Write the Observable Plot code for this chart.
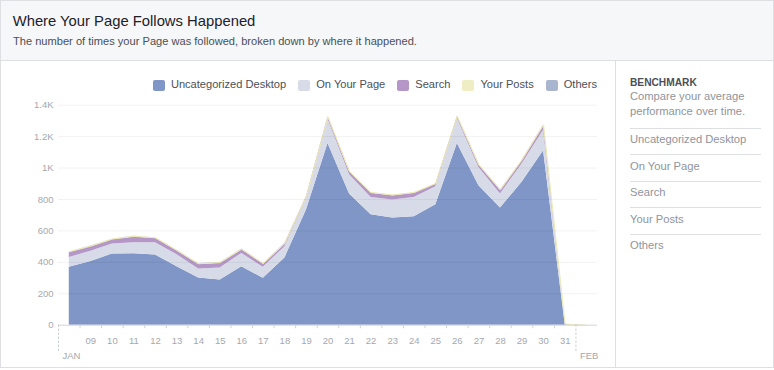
<!DOCTYPE html>
<html><head><meta charset="utf-8">
<script src="https://cdn.jsdelivr.net/npm/d3@7"></script>
<script src="https://cdn.jsdelivr.net/npm/@observablehq/plot@0.6"></script>
<style>
body{margin:0;background:#fff;font-family:"Liberation Sans",Arial,Helvetica,sans-serif;}
.abs{position:absolute;white-space:nowrap}
#card{position:absolute;left:0;top:0;width:772px;height:366px;border:1px solid #dddfe2;background:#fff}
#header{position:absolute;left:1px;top:1px;width:772px;height:59px;background:#f6f7f9}
#hline{position:absolute;left:1px;top:60px;width:772px;height:1px;background:#dddfe2}
#vline{position:absolute;left:615px;top:61px;width:1px;height:306px;background:#dddfe2}
#title{left:12.7px;top:14.2px;font-size:14.8px;line-height:14.8px;color:#1d2129}
#subtitle{left:13px;top:36.1px;font-size:11.1px;line-height:11.1px;color:#4b4f56}
#legend{position:absolute;left:0;top:79.5px;width:597px;height:11px;display:flex;justify-content:flex-end;gap:12px}
.li{display:flex;align-items:center;gap:6px;font-size:11.1px;line-height:11px;color:#4b4f56;white-space:nowrap}
.sw{width:12px;height:11px;border-radius:2px}
.li span{position:relative;top:-1px}
#bench{left:630px;top:78.1px;font-size:10.2px;line-height:10.2px;font-weight:bold;color:#4b4f56}
#compare{left:630px;top:88.6px;font-size:11.2px;line-height:15.6px;color:#90949c}
.sep{position:absolute;left:630px;width:131px;height:1px;background:#dddfe2}
.item{left:630px;font-size:11.2px;line-height:11.2px;color:#90949c}
#chart{position:absolute;left:0;top:94px}
</style></head>
<body>
<div id="card"></div>
<div id="header"></div>
<div id="hline"></div>
<div id="vline"></div>
<div id="title" class="abs">Where Your Page Follows Happened</div>
<div id="subtitle" class="abs">The number of times your Page was followed, broken down by where it happened.</div>
<div id="legend"></div>
<div id="bench" class="abs">BENCHMARK</div>
<div id="compare" class="abs">Compare your average<br>performance over time.</div>
<div id="panel"></div>
<div id="chart"></div>
<script>
// ---- data ----
const series = ["Uncategorized Desktop", "On Your Page", "Search", "Your Posts", "Others"];
const seriesColors = ["#7f96c6", "#d7dbe8", "#b497c7", "#efedc3", "#a9b5cf"];
const dayDates = ["2018-01-08","2018-01-09","2018-01-10","2018-01-11","2018-01-12","2018-01-13","2018-01-14",
  "2018-01-15","2018-01-16","2018-01-17","2018-01-18","2018-01-19","2018-01-20","2018-01-21","2018-01-22",
  "2018-01-23","2018-01-24","2018-01-25","2018-01-26","2018-01-27","2018-01-28","2018-01-29","2018-01-30",
  "2018-01-31","2018-02-01"];
const uncategorizedDesktop = [368,406,453,455,447,372,300,288,372,298,428,733,1157,835,703,682,690,767,1157,888,746,909,1110,4,0];
const onYourPage =           [63,64,64,70,78,76,58,76,85,70,72,72,153,123,110,115,123,114,158,116,89,117,130,1,0];
const search =               [32,29,27,36,27,24,29,30,23,20,17,11,13,17,27,27,27,16,11,14,22,21,30,0,0];
const yourPosts =            [4,4,4,4,4,4,4,4,4,4,3,3,4,4,4,4,4,4,4,4,4,4,4,1,0];
const others =               [1,1,1,1,1,1,1,1,1,1,1,1,1,1,1,1,1,1,1,1,1,1,1,0,0];
const seriesValues = [uncategorizedDesktop, onYourPage, search, yourPosts, others];

const yTicks = [0, 200, 400, 600, 800, 1000, 1200, 1400];
const yTickLabels = ["0", "200", "400", "600", "800", "1K", "1.2K", "1.4K"];
const dayLabelDates = dayDates.slice(1, 24); // Jan 09 .. Jan 31
const dayLabels = ["09","10","11","12","13","14","15","16","17","18","19","20","21","22","23","24","25","26","27","28","29","30","31"];
const monthStarts = ["2018-01-08", "2018-02-01"];
const monthLabels = ["JAN", "FEB"];
const domainDays = ["2018-01-08", "2018-02-02"];

// ---- build ----
const noon = s => new Date(s + "T12:00:00Z");
const midnight = s => new Date(s + "T00:00:00Z");
const data = [];
series.forEach((s, i) => seriesValues[i].forEach((v, j) => data.push({series: s, date: noon(dayDates[j]), value: v})));

// legend
const legend = document.getElementById("legend");
series.forEach((s, i) => {
  const d = document.createElement("div"); d.className = "li";
  d.innerHTML = `<div class="sw" style="background:${seriesColors[i]}"></div><span>${s}</span>`;
  legend.appendChild(d);
});
// right panel
const panel = document.getElementById("panel");
const sepY = [127.7, 154.3, 180.7, 207.3, 234];
series.forEach((s, i) => {
  const sep = document.createElement("div"); sep.className = "sep"; sep.style.top = sepY[i] + "px"; panel.appendChild(sep);
  const it = document.createElement("div"); it.className = "abs item"; it.style.top = (sepY[i] + 6.4) + "px"; it.textContent = s; panel.appendChild(it);
});

const yLab = new Map(yTicks.map((t, i) => [t, yTickLabels[i]]));
const dayTicks = dayLabelDates.map(noon);
const dayLab = new Map(dayTicks.map((t, i) => [+t, dayLabels[i]]));
const midTicks = dayLabelDates.map(midnight);
const monTicks = monthStarts.map(midnight);
const monLab = new Map(monTicks.map((t, i) => [+t, monthLabels[i]]));
const axisGray = "#a5a8ae";
const topSeries = data.filter(d => d.series !== "Others");

const chart = Plot.plot({
  width: 615, height: 270,
  marginTop: 10.7, marginBottom: 39.3, marginLeft: 58, marginRight: 18,
  style: {background: "transparent", fontFamily: "Liberation Sans, Arial, sans-serif", fontSize: "9.5px", overflow: "visible"},
  x: {type: "utc", domain: domainDays.map(midnight), label: null},
  y: {domain: [0, 1400], label: null},
  color: {domain: series, range: seriesColors},
  marks: [
    Plot.areaY(data, Plot.stackY({x: "date", y: "value", z: "series", fill: "series", order: series})),
    Plot.lineY(data, Plot.stackY2({x: "date", y: "value", z: "series", order: series,
      stroke: d => d.series === "Your Posts" ? "#ece8b4" : "none", strokeWidth: 1})),
    Plot.gridY(yTicks.slice(1), {stroke: "#000", strokeOpacity: 0.055}),
    Plot.ruleY([0], {stroke: "#d4d6da"}),
    Plot.axisY({ticks: yTicks, tickSize: 0, tickPadding: 5, tickFormat: d => yLab.get(d), color: axisGray, label: null}),
    Plot.axisX({ticks: midTicks, tickSize: 3.5, tickFormat: () => "", color: "#cfd2d6", label: null}),
    Plot.axisX({ticks: dayTicks, tickSize: 0, tickPadding: 12, tickFormat: d => dayLab.get(+d), color: axisGray, label: null}),
    Plot.axisX({ticks: monTicks, tickSize: 27, tickPadding: 0, tickFormat: () => "",
      strokeDasharray: "2,2", color: "#c4c7cc", label: null}),
    Plot.axisX({ticks: monTicks, tickSize: 0, tickPadding: 27, tickFormat: d => monLab.get(+d), textAnchor: "start", dx: 4, color: axisGray, label: null})
  ]
});
document.getElementById("chart").appendChild(chart);
</script>
</body></html>
